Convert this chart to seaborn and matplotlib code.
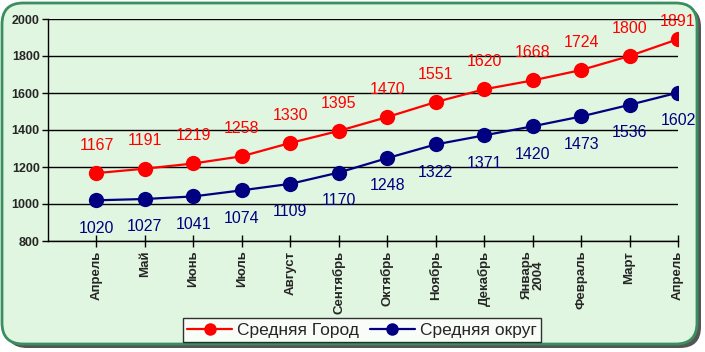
import matplotlib
matplotlib.use('Agg')
import matplotlib.pyplot as plt
import pandas as pd
import seaborn as sns
from matplotlib.patches import FancyBboxPatch

months = ['Апрель', 'Май', 'Июнь', 'Июль', 'Август', 'Сентябрь', 'Октябрь',
          'Ноябрь', 'Декабрь', 'Январь\n2004', 'Февраль', 'Март', 'Апрель']
city = [1167, 1191, 1219, 1258, 1330, 1395, 1470, 1551, 1620, 1668, 1724, 1800, 1891]
district = [1020, 1027, 1041, 1074, 1109, 1170, 1248, 1322, 1371, 1420, 1473, 1536, 1602]
series_names = ['Средняя Город', 'Средняя округ']
colors = ['#ff0000', '#000080']

df = pd.DataFrame({'pos': list(range(len(months))) * 2,
                   'value': city + district,
                   'series': [series_names[0]] * len(city) + [series_names[1]] * len(district)})

sns.set_theme(style='white')
plt.rcParams['font.family'] = ['Liberation Sans', 'DejaVu Sans']

fig = plt.figure(figsize=(7.05, 3.52), dpi=100, facecolor='white')

# rounded frame with shadow
shadow = FancyBboxPatch((6 / 705, 4 / 352), 695 / 705, 342 / 352,
                        boxstyle='round,pad=0,rounding_size=0.03',
                        transform=fig.transFigure, facecolor='#555555',
                        edgecolor='none', mutation_aspect=2.0, zorder=-3)
frame = FancyBboxPatch((2 / 705, 8 / 352), 695 / 705, 341 / 352,
                       boxstyle='round,pad=0,rounding_size=0.03',
                       transform=fig.transFigure, facecolor='#e0f6e0',
                       edgecolor='#3a8f60', linewidth=2, mutation_aspect=2.0, zorder=-2)
fig.patches.extend([shadow, frame])

ax = fig.add_axes([48 / 705, 1 - 241 / 352, 630 / 705, 222 / 352])
ax.set_facecolor('none')

sns.lineplot(data=df, x='pos', y='value', hue='series', palette=colors,
             marker='o', markersize=11, markeredgewidth=0, linewidth=1.6, ax=ax)

ymin, ymax = 800, 2000
ax.set_xlim(-1, len(months) - 1)
ax.set_ylim(ymin, ymax)

# labels above the top line may not leave the chart (as Excel does)
px_per_unit = 222 / (ymax - ymin)
for i, (c, d) in enumerate(zip(city, district)):
    up = min(20, ((ymax - c) * px_per_unit - 3) * 0.72)
    ax.annotate(str(c), (i, c), xytext=(0, up), textcoords='offset points',
                ha='center', va='center', color=colors[0], fontsize=11.5)
    ax.annotate(str(d), (i, d), xytext=(0, -20), textcoords='offset points',
                ha='center', va='center', color=colors[1], fontsize=11.5)

ax.set_yticks(range(ymin, ymax + 1, 200))
ax.set_xticks(range(len(months)))
ax.set_xticklabels(months, rotation=90, fontsize=9.5, fontweight='bold', linespacing=0.95)
ax.tick_params(axis='y', labelsize=9, direction='out', length=4, width=1, color='black', pad=2, left=True)
ax.tick_params(axis='x', direction='inout', length=8, width=1, color='black', pad=3, bottom=True)
for lbl in ax.get_yticklabels():
    lbl.set_fontweight('bold')
ax.yaxis.grid(True, color='black', linewidth=1)
ax.set_axisbelow(True)
for s in ['top', 'right']:
    ax.spines[s].set_visible(False)
for s in ['left', 'bottom']:
    ax.spines[s].set_color('black')
    ax.spines[s].set_linewidth(1)
ax.set_xlabel('')
ax.set_ylabel('')

handles, labels = ax.get_legend_handles_labels()
ax.get_legend().remove()
leg = fig.legend(handles, labels, loc='center', bbox_to_anchor=(362 / 705, 1 - 330 / 352),
                 ncol=2, frameon=True, fontsize=12.5, handlelength=2.6, handletextpad=0.3,
                 columnspacing=0.6, borderpad=0.25, fancybox=False)
leg.get_frame().set_edgecolor('black')
leg.get_frame().set_facecolor('white')
leg.get_frame().set_linewidth(1)
for h in leg.legend_handles:
    h.set_markersize(9)

fig.savefig('out.png', dpi=100, facecolor=fig.get_facecolor())
